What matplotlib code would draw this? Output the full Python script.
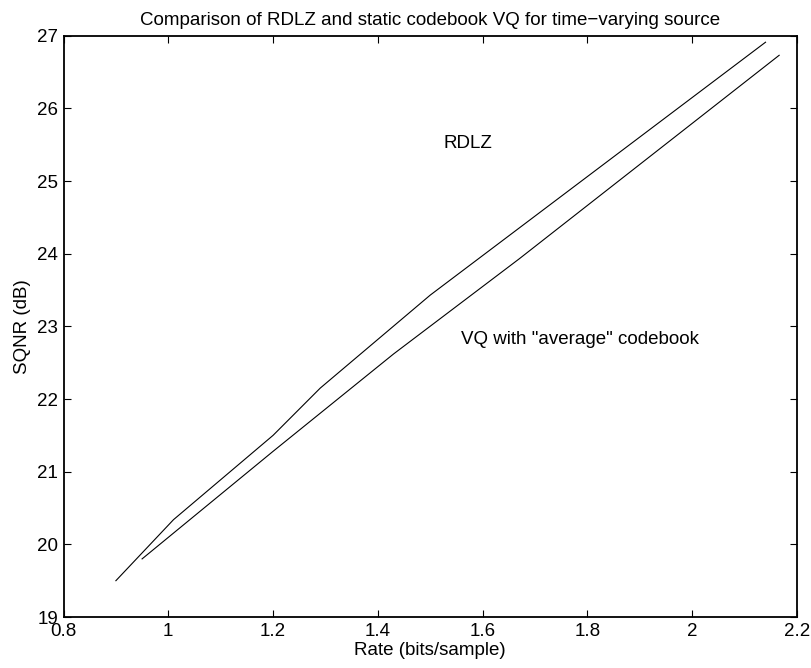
import matplotlib
matplotlib.use("Agg")
import matplotlib.pyplot as plt

# Data
rdlz_rate = [0.90, 1.01, 1.20, 1.29, 1.50, 2.14]
rdlz_sqnr = [19.50, 20.34, 21.50, 22.15, 23.43, 26.91]

vq_rate = [0.95, 1.20, 1.43, 1.67, 2.166]
vq_sqnr = [19.80, 21.28, 22.62, 23.93, 26.73]

xticks = [0.8, 1, 1.2, 1.4, 1.6, 1.8, 2, 2.2]
xticklabels = ["0.8", "1", "1.2", "1.4", "1.6", "1.8", "2", "2.2"]
yticks = [19, 20, 21, 22, 23, 24, 25, 26, 27]

plt.rcParams['font.family'] = ['Liberation Sans', 'DejaVu Sans']
FS = 13.5

fig = plt.figure(figsize=(8.11, 6.68), dpi=100)
ax = fig.add_axes([0.0783, 0.0763, 0.9044, 0.8703])

ax.plot(rdlz_rate, rdlz_sqnr, color='black', linewidth=0.8)
ax.plot(vq_rate, vq_sqnr, color='black', linewidth=0.8)

ax.text(1.526, 25.52, "RDLZ", fontsize=FS, ha='left', va='center')
ax.text(1.559, 22.82, 'VQ with "average" codebook', fontsize=FS, ha='left', va='center')

ax.set_xlim(0.8, 2.2)
ax.set_ylim(19, 27)
ax.set_xticks(xticks)
ax.set_xticklabels(xticklabels)
ax.set_yticks(yticks)
ax.tick_params(direction='in', length=5, width=0.8, top=True, right=True,
               labelsize=FS, pad=4)
for s in ax.spines.values():
    s.set_linewidth(1.3)

ax.set_xlabel("Rate (bits/sample)", fontsize=FS, labelpad=2)
ax.set_ylabel("SQNR (dB)", fontsize=FS, labelpad=4)
ax.set_title("Comparison of RDLZ and static codebook VQ for time\u2212varying source",
             fontsize=FS, pad=8)

fig.savefig("out.png", dpi=100)
